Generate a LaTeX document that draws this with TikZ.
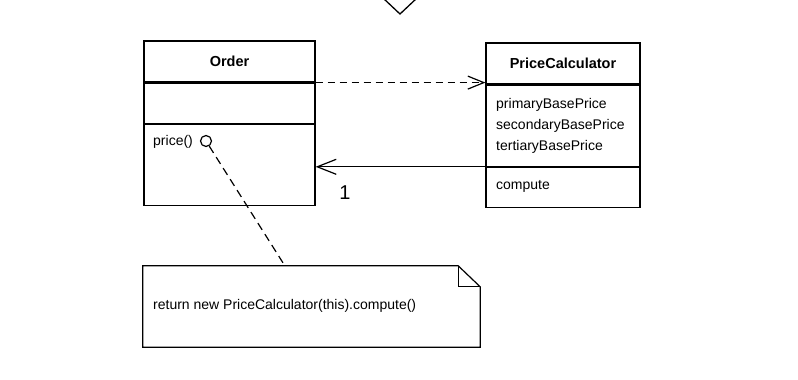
\documentclass[tikz,border=0pt]{standalone}
\usepackage{fontspec}
\setmainfont{Liberation Sans}
\usetikzlibrary{arrows.meta}
\tikzset{
  part/.style={draw,line width=1.2pt,inner sep=0pt},
  orderpart/.style={part,minimum width=171pt},
  calcpart/.style={part,minimum width=154pt},
  label/.style={inner sep=0pt,font=\fontsize{14}{21}\selectfont},
  depend/.style={line width=1.2pt,dash pattern=on 7pt off 5pt,-{Straight Barb[length=16pt,width=13pt,line width=1.2pt]}},
  assoc/.style={line width=1.2pt,-{Straight Barb[length=19pt,width=15pt,line width=1.2pt]}},
  notelink/.style={line width=1.2pt,dash pattern=on 8pt off 5pt}
}
\begin{document}
\begin{tikzpicture}[x=1pt,y=-1pt]
  \useasboundingbox (0,0) rectangle (798,380);
  % arrow tip coming in from above
  \draw[line width=1.3pt] (383,-2) -- (400,14) -- (417,-2);
  % Order
  \node[orderpart,minimum height=41pt,font=\fontsize{14.5}{17}\selectfont\bfseries] (order-name) at (229.5,61.5) {Order};
  \node[orderpart,minimum height=40pt,anchor=north] (order-attr) at (order-name.south) {};
  \node[orderpart,minimum height=81pt,anchor=north] (order-ops) at (order-attr.south) {};
  \node[label,anchor=west] (price) at (153,142) {price()};
  \node[circle,draw,line width=1.2pt,minimum size=11pt,inner sep=0pt] (port) at (206,141) {};
  % PriceCalculator
  \node[calcpart,minimum height=41pt,font=\fontsize{14.5}{17}\selectfont\bfseries] (calc-name) at (563,63.5) {PriceCalculator};
  \node[calcpart,minimum height=81pt,anchor=north] (calc-attr) at (calc-name.south) {};
  \node[calcpart,minimum height=40pt,anchor=north] (calc-ops) at (calc-attr.south) {};
  \node[label,anchor=west,align=left] (fields) at (496,126) {primaryBasePrice\\secondaryBasePrice\\tertiaryBasePrice};
  \node[label,anchor=west] (compute) at (496,186) {compute};
  % links between the classes
  \draw[depend] (order-name.south east) -- (order-name.south east -| calc-name.west);
  \draw[assoc] (calc-attr.south west) -- (calc-attr.south west -| order-ops.east);
  \node[inner sep=0pt,font=\fontsize{20}{20}\selectfont] (mult) at (345,193) {1};
  % note with folded corner
  \node[minimum width=337pt,minimum height=81pt,inner sep=0pt] (note) at (311.5,306.5) {};
  \node[label,anchor=west] (body) at (153,306) {return new PriceCalculator(this).compute()};
  \draw[line width=1.2pt,line join=miter] (note.north west) -- ([xshift=-22pt]note.north east)
    -- ([yshift=-21pt]note.north east) -- (note.south east) -- (note.south west) -- cycle;
  \draw[line width=1.1pt] ([xshift=-22pt]note.north east) |- ([yshift=-21pt]note.north east);
  \coordinate (tip) at (285,266);
  \draw[notelink] (port) -- (tip);
\end{tikzpicture}
\end{document}
